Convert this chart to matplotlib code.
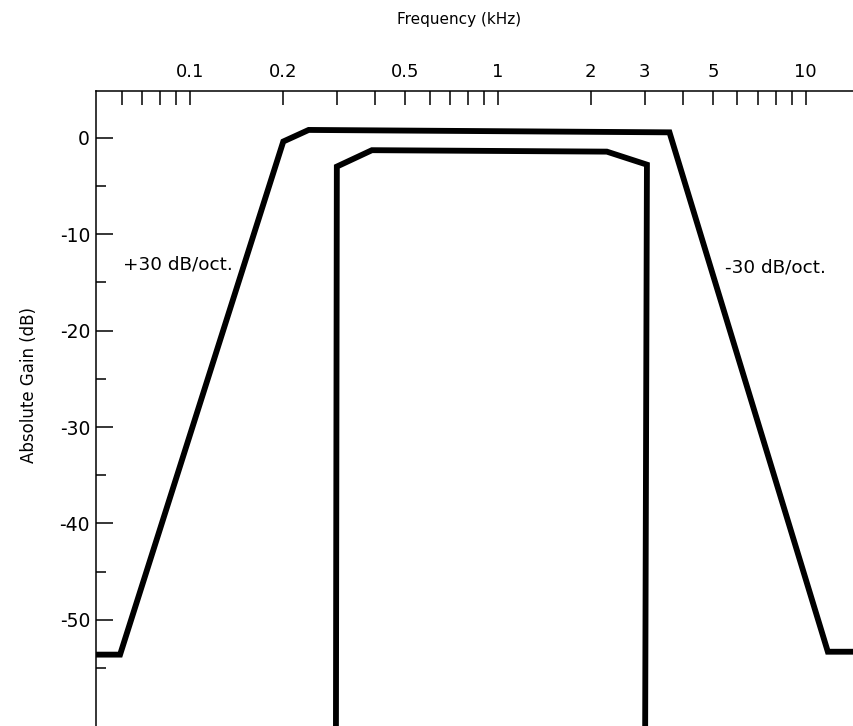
import matplotlib
matplotlib.use("Agg")
import matplotlib.pyplot as plt
from matplotlib.ticker import FixedLocator, NullFormatter
import numpy as np

plt.rcParams["font.family"] = ["DejaVu Sans"]
plt.rcParams["axes.unicode_minus"] = False

# outer (wide) response, frequency in kHz, gain in dB
outer_freq = [0.0494, 0.0593, 0.201, 0.243, 3.61, 11.8, 14.35]
outer_gain = [-53.6, -53.6, -0.4, 0.8, 0.55, -53.3, -53.3]

# inner (narrow) response
inner_freq = [0.298, 0.300, 0.390, 2.26, 3.05, 3.01]
inner_gain = [-61.0, -3.0, -1.3, -1.45, -2.8, -61.0]

x_labeled = [0.1, 0.2, 0.5, 1, 2, 3, 5, 10]
x_label_text = ["0.1", "0.2", "0.5", "1", "2", "3", "5", "10"]
x_minor = [0.06, 0.07, 0.08, 0.09, 0.3, 0.4, 0.6, 0.7, 0.8, 0.9,
           4, 6, 7, 8, 9]
y_major = [0, -10, -20, -30, -40, -50]
y_minor = [-5, -15, -25, -35, -45, -55]

fig = plt.figure(figsize=(8.54, 7.26), dpi=100)
ax = fig.add_axes([0.112, 0.0, 0.888, 0.8747])

ax.plot(outer_freq, outer_gain, color="black", lw=4.2, solid_joinstyle="miter",
        solid_capstyle="butt")
ax.plot(inner_freq, inner_gain, color="black", lw=4.2, solid_joinstyle="miter",
        solid_capstyle="butt")

ax.set_xscale("log")
ax.set_xlim(0.0494, 14.35)
ax.set_ylim(-61.0, 4.84)

# axis frame: only top and left
for side in ["right", "bottom"]:
    ax.spines[side].set_visible(False)
for side in ["top", "left"]:
    ax.spines[side].set_linewidth(1.1)

ax.xaxis.tick_top()
ax.xaxis.set_major_locator(FixedLocator(x_labeled))
ax.set_xticklabels(x_label_text)
ax.xaxis.set_minor_locator(FixedLocator(x_minor))
ax.xaxis.set_minor_formatter(NullFormatter())
ax.tick_params(axis="x", which="both", direction="in", length=10, width=1.1,
               top=True, bottom=False, labeltop=True, labelbottom=False,
               labelsize=13, pad=7)

ax.yaxis.set_major_locator(FixedLocator(y_major))
ax.yaxis.set_minor_locator(FixedLocator(y_minor))
ax.tick_params(axis="y", which="major", direction="in", length=12.5, width=1.1,
               labelsize=13.5, pad=4)
ax.tick_params(axis="y", which="minor", direction="in", length=7, width=1.1)

ax.set_xlabel("Frequency (kHz)", fontsize=11)
ax.xaxis.set_label_position("top")
ax.xaxis.set_label_coords(0.479, 1.106)
ax.set_ylabel("Absolute Gain (dB)", fontsize=12)
ax.yaxis.set_label_coords(-0.076, 0.537)

ax.text(0.0605, -13.2, "+30 dB/oct.", fontsize=13.2, ha="left", va="center")
ax.text(5.47, -13.5, "-30 dB/oct.", fontsize=13.2, ha="left", va="center")

fig.savefig("out.png", dpi=100)
